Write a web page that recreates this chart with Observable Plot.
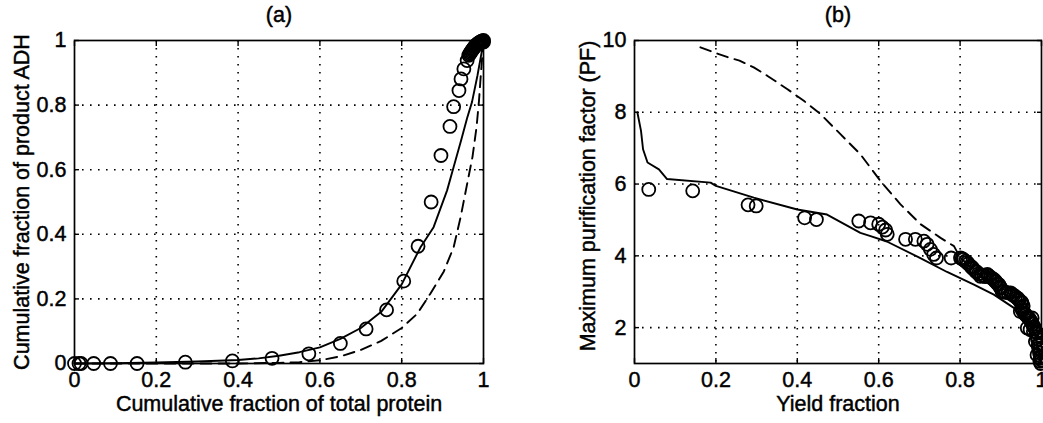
<!DOCTYPE html>
<html><head><meta charset="utf-8">
<script src="https://cdn.jsdelivr.net/npm/d3@7"></script>
<script src="https://cdn.jsdelivr.net/npm/@observablehq/plot@0.6"></script>
<style>
body{margin:0;background:#fff;}
#wrap{position:relative;width:1043px;height:423px;overflow:hidden;background:#fff;}
#pa{position:absolute;left:0;top:0;}
#pb{position:absolute;left:520px;top:0;}
svg{overflow:visible;}
svg text{stroke:black;stroke-width:0.45px;}
</style></head><body><div id="wrap"><div id="pa"></div><div id="pb"></div></div>
<script>
// ---------- Panel (a) ----------
const aTitle = "(a)";
const aXLabel = "Cumulative fraction of total protein";
const aYLabel = "Cumulative fraction of product ADH";
const aXTicks = [0, 0.2, 0.4, 0.6, 0.8, 1];
const aYTicks = [0, 0.2, 0.4, 0.6, 0.8, 1];
const aGrid = [0.2, 0.4, 0.6, 0.8];
// experimental points (circles)
const aExpX = [0, 0.011, 0.016, 0.047, 0.088, 0.153, 0.271, 0.386, 0.483, 0.573, 0.65, 0.713, 0.763, 0.805, 0.84, 0.872, 0.896, 0.918, 0.927, 0.94, 0.945, 0.952, 0.96, 0.964, 0.966, 0.968, 0.97, 0.972, 0.974, 0.976, 0.978, 0.98, 0.982, 0.984, 0.986, 0.988, 0.99, 0.992, 0.994, 0.996, 0.998, 0.999, 1.0, 1.0];
const aExpY = [0, 0, 0, 0, 0, 0, 0.004, 0.008, 0.016, 0.03, 0.062, 0.107, 0.166, 0.255, 0.363, 0.5, 0.644, 0.734, 0.795, 0.845, 0.881, 0.912, 0.938, 0.954, 0.958, 0.962, 0.966, 0.97, 0.973, 0.977, 0.98, 0.983, 0.986, 0.988, 0.99, 0.992, 0.994, 0.995, 0.997, 0.998, 0.999, 0.997, 1.0, 0.995];
// model, solid
const aSolidX = [0, 0.1, 0.2, 0.3, 0.4, 0.45, 0.5, 0.55, 0.6, 0.65, 0.7, 0.75, 0.8, 0.846, 0.878, 0.911, 0.927, 0.945, 0.96, 0.972, 0.985, 0.995, 1];
const aSolidY = [0, 0.001, 0.003, 0.006, 0.011, 0.016, 0.024, 0.035, 0.05, 0.076, 0.11, 0.16, 0.245, 0.36, 0.422, 0.536, 0.608, 0.69, 0.76, 0.81, 0.89, 0.96, 1];
// model, dashed
const aDashX = [0, 0.4, 0.5, 0.55, 0.6, 0.65, 0.7, 0.75, 0.8, 0.838, 0.87, 0.903, 0.927, 0.944, 0.96, 0.973, 0.983, 0.989, 0.993, 1];
const aDashY = [0, 0, 0.002, 0.004, 0.01, 0.022, 0.042, 0.07, 0.11, 0.154, 0.216, 0.285, 0.36, 0.453, 0.556, 0.639, 0.732, 0.814, 0.886, 1];

// ---------- Panel (b) ----------
const bTitle = "(b)";
const bXLabel = "Yield fraction";
const bYLabel = "Maximum purification factor (PF)";
const bXTicks = [0, 0.2, 0.4, 0.6, 0.8, 1];
const bYTicks = [2, 4, 6, 8, 10];
const bXGrid = [0.2, 0.4, 0.6, 0.8];
const bYGrid = [2, 4, 6, 8];
const bExpX = [0.035, 0.143, 0.279, 0.299, 0.418, 0.447, 0.551, 0.58, 0.6, 0.609, 0.617, 0.621, 0.666, 0.69, 0.711, 0.719, 0.727, 0.735, 0.742, 0.778, 0.801, 0.808, 0.813, 0.82, 0.826, 0.832, 0.838, 0.845, 0.85, 0.858, 0.867, 0.875, 0.883, 0.888, 0.895, 0.9, 0.903, 0.912, 0.924, 0.932, 0.94, 0.945, 0.952, 0.955, 0.948, 0.958, 0.965, 0.97, 0.977, 0.975, 0.981, 0.965, 0.972, 0.98, 0.989, 0.99, 0.985, 0.992, 0.993, 0.995, 0.989, 0.997, 0.996, 0.998,
  0.805, 0.817, 0.829, 0.841, 0.853, 0.862, 0.871, 0.879, 0.886, 0.892, 0.898, 0.908, 0.918, 0.928, 0.936, 0.943, 0.95, 0.951, 0.953, 0.961, 0.968, 0.973, 0.978, 0.983, 0.987, 0.99, 0.994, 0.996, 0.998, 0.999];
const bExpY = [5.85, 5.81, 5.42, 5.39, 5.06, 5.01, 4.97, 4.92, 4.88, 4.8, 4.72, 4.6, 4.46, 4.46, 4.41, 4.32, 4.18, 4.04, 3.94, 3.94, 3.94, 3.9, 3.85, 3.78, 3.71, 3.64, 3.57, 3.5, 3.43, 3.45, 3.48, 3.4, 3.34, 3.28, 3.2, 3.1, 3.01, 2.98, 2.97, 2.9, 2.83, 2.76, 2.69, 2.6, 2.45, 2.4, 2.31, 2.25, 2.27, 2.15, 2.03, 1.99, 1.95, 1.9, 1.85, 1.75, 1.61, 1.5, 1.43, 1.3, 1.24, 1.15, 1.06, 1.0,
  3.92, 3.82, 3.68, 3.55, 3.47, 3.42, 3.44, 3.37, 3.3, 3.22, 3.14, 3.0, 2.97, 2.92, 2.86, 2.8, 2.72, 2.55, 2.48, 2.36, 2.28, 2.2, 2.1, 1.98, 1.88, 1.68, 1.55, 1.38, 1.2, 1.1];
const bSolidX = [0.007, 0.016, 0.021, 0.032, 0.06, 0.08, 0.187, 0.2, 0.293, 0.4, 0.473, 0.555, 0.58, 0.62, 0.7, 0.768, 0.834, 0.883, 0.932, 0.965, 0.985, 0.997];
const bSolidY = [8.0, 7.48, 6.97, 6.6, 6.41, 6.14, 6.04, 5.95, 5.62, 5.29, 5.15, 4.64, 4.55, 4.4, 3.95, 3.55, 3.2, 2.92, 2.55, 2.17, 1.8, 1.06];
const bDashX = [0.162, 0.195, 0.23, 0.258, 0.293, 0.326, 0.375, 0.416, 0.457, 0.506, 0.555, 0.604, 0.653, 0.703, 0.752, 0.785, 0.8, 0.85, 0.9, 0.95, 0.98, 1];
const bDashY = [9.81, 9.67, 9.53, 9.44, 9.25, 9.02, 8.65, 8.32, 7.95, 7.39, 6.83, 6.09, 5.44, 4.88, 4.5, 4.27, 3.95, 3.45, 3.05, 2.5, 2.0, 1.0];

const FONT = "'Liberation Sans', Arial, Helvetica, sans-serif";
const zip = (xs, ys) => xs.map((x, i) => ({x, y: ys[i]}));
const fmt = d => `${d}`;

function panel(o) {
  const grid = {stroke: "black", strokeOpacity: 1, strokeWidth: 1.6, strokeDasharray: "1.6,6.4"};
  const tick = {tickSize: -5, fill: "none", label: null, strokeWidth: 1.4};
  return Plot.plot({
    width: o.width, height: 423,
    marginLeft: o.ml, marginRight: o.mr, marginTop: 40, marginBottom: 60,
    style: {fontFamily: FONT, fontSize: "21.5px", color: "black", background: "white"},
    x: {domain: [0, 1]},
    y: {domain: o.yDomain},
    marks: [
      Plot.gridX(o.xGrid, grid),
      Plot.gridY(o.yGrid, grid),
      Plot.line(zip(o.dashX, o.dashY), {x: "x", y: "y", stroke: "black", strokeWidth: 1.9, strokeDasharray: "11,7"}),
      Plot.line(zip(o.solidX, o.solidY), {x: "x", y: "y", stroke: "black", strokeWidth: 1.9}),
      Plot.dot(zip(o.expX, o.expY), {x: "x", y: "y", r: 6.5, stroke: "black", strokeWidth: 1.8, fill: "none"}),
      Plot.frame({stroke: "black", strokeWidth: 1.7}),
      Plot.axisX(o.xTicks, {anchor: "bottom", ...tick}),
      Plot.axisX(o.xTicks, {anchor: "top", ...tick}),
      Plot.axisY(o.yTicks, {anchor: "left", ...tick}),
      Plot.axisY(o.yTicks, {anchor: "right", ...tick}),
      Plot.axisX(o.xTicks, {anchor: "bottom", tickSize: 0, tickPadding: 8, label: null, fill: "black", tickFormat: fmt}),
      Plot.axisY(o.yTicks, {anchor: "left", tickSize: 0, tickPadding: 8, label: null, fill: "black", tickFormat: fmt}),
      Plot.text([o.title], {text: d => d, frameAnchor: "top", lineAnchor: "middle", dy: -25, fill: "black"}),
      Plot.text([o.xlabel], {text: d => d, frameAnchor: "bottom", lineAnchor: "middle", dy: 41, fill: "black"}),
      Plot.text([o.ylabel], {text: d => d, frameAnchor: "left", textAnchor: "middle", lineAnchor: "middle", rotate: -90, dx: o.ylDx, dy: o.ylDy, fill: "black"})
    ]
  });
}

document.getElementById("pa").append(panel({
  width: 520, ml: 74, mr: 37, yDomain: [0, 1],
  xTicks: aXTicks, yTicks: aYTicks, xGrid: aGrid, yGrid: aGrid,
  expX: aExpX, expY: aExpY, solidX: aSolidX, solidY: aSolidY, dashX: aDashX, dashY: aDashY,
  title: aTitle, xlabel: aXLabel, ylabel: aYLabel, ylDx: -52, ylDy: 0
}));
document.getElementById("pb").append(panel({
  width: 523, ml: 114, mr: 2, yDomain: [1, 10],
  xTicks: bXTicks, yTicks: bYTicks, xGrid: bXGrid, yGrid: bYGrid,
  expX: bExpX, expY: bExpY, solidX: bSolidX, solidY: bSolidY, dashX: bDashX, dashY: bDashY,
  title: bTitle, xlabel: bXLabel, ylabel: bYLabel, ylDx: -46, ylDy: -6
}));
</script></body></html>
